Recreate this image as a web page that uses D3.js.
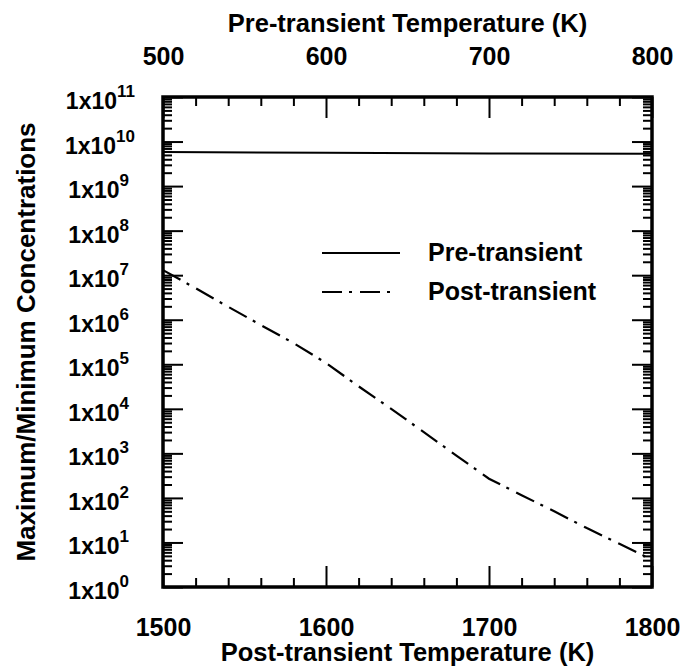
<!DOCTYPE html>
<html>
<head>
<meta charset="utf-8">
<script src="https://cdn.jsdelivr.net/npm/d3@7"></script>
<style>
  body { margin: 0; background: #fff; }
  text { font-family: "Liberation Sans", Arial, sans-serif; font-weight: bold; fill: #000; }
</style>
</head>
<body>
<div id="chart"></div>
<script>

// Data
var postTemps = [1500, 1520, 1540, 1560, 1580, 1600, 1620, 1640, 1660, 1680, 1700, 1720, 1740, 1760, 1780, 1800];
var postRatio = [1.3e7, 5.1e6, 1.95e6, 7.6e5, 3.0e5, 1.07e5, 3.2e4, 1.0e4, 3.0e3, 8.9e2, 2.7e2, 1.15e2, 50, 21, 9.3, 4.1];

var preTemps = [500, 600, 700, 800];
var preRatio = [5.8e9, 5.6e9, 5.4e9, 5.3e9];

var bottomTicks = [1500, 1600, 1700, 1800];
var topTicks = [500, 600, 700, 800];
var yExponents = [0, 1, 2, 3, 4, 5, 6, 7, 8, 9, 10, 11];

var legendLabels = ["Pre-transient", "Post-transient"];

///////////////////////////////////////////////////////////////////////////
///////////////////////////// Set up the SVG //////////////////////////////
///////////////////////////////////////////////////////////////////////////

var width = 684,
    height = 670,
    plotLeft = 163, plotRight = 652, plotTop = 97, plotBottom = 587;

var svg = d3.select("#chart")
    .append("svg")
        .attr("width", width)
        .attr("height", height);

var x = d3.scaleLinear().domain([1500, 1800]).range([plotLeft, plotRight]);
var xTop = d3.scaleLinear().domain([500, 800]).range([plotLeft, plotRight]);
var y = d3.scaleLog().domain([1, 1e11]).range([plotBottom, plotTop]);

// minor tick values
var xMinor = d3.range(1500, 1801, 20).filter(d => d % 100 !== 0);
var xTopMinor = d3.range(500, 801, 20).filter(d => d % 100 !== 0);
var yMinor = [];
yExponents.slice(0, -1).forEach(e => {
    d3.range(2, 10).forEach(m => yMinor.push(m * Math.pow(10, e)));
});
var yMajor = yExponents.map(e => Math.pow(10, e));

///////////////////////////////////////////////////////////////////////////
////////////////////////////////// Axes ///////////////////////////////////
///////////////////////////////////////////////////////////////////////////

function tickAxis(axis, translate) {
    var g = svg.append("g")
        .attr("transform", translate)
        .call(axis);
    g.select(".domain").remove();
    g.selectAll("line").attr("stroke", "#000").attr("stroke-width", 2);
    g.selectAll("text").attr("font-family", null).attr("font-size", null)
        .style("font-size", "25px");
    return g;
}

// bottom
tickAxis(d3.axisBottom(x).tickValues(xMinor).tickSize(-9).tickFormat(""), "translate(0," + plotBottom + ")");
tickAxis(d3.axisBottom(x).tickValues(bottomTicks).tickSize(-21).tickPadding(31).tickFormat(d3.format("d")), "translate(0," + plotBottom + ")");

// top
tickAxis(d3.axisTop(xTop).tickValues(xTopMinor).tickSize(-9).tickFormat(""), "translate(0," + plotTop + ")");
tickAxis(d3.axisTop(xTop).tickValues(topTicks).tickSize(-21).tickPadding(32).tickFormat(d3.format("d")), "translate(0," + plotTop + ")");

// left & right
tickAxis(d3.axisLeft(y).tickValues(yMinor).tickSize(-9).tickFormat(""), "translate(" + plotLeft + ",0)");
tickAxis(d3.axisLeft(y).tickValues(yMajor).tickSize(-20).tickFormat(""), "translate(" + plotLeft + ",0)");
tickAxis(d3.axisRight(y).tickValues(yMinor).tickSize(-9).tickFormat(""), "translate(" + plotRight + ",0)");
tickAxis(d3.axisRight(y).tickValues(yMajor).tickSize(-20).tickFormat(""), "translate(" + plotRight + ",0)");

// y tick labels with superscripts
var yLab = svg.append("g")
    .selectAll("text")
    .data(yExponents)
    .enter()
    .append("text")
        .attr("x", d => d >= 10 ? 135 : 129)
        .attr("y", d => y(Math.pow(10, d)) + 12)
        .attr("text-anchor", "end")
        .style("font-size", "23px");

yLab.append("tspan").text("1x10");
yLab.append("tspan")
    .text(d => d)
    .attr("dy", -12)
    .style("font-size", "17px");

// frame
svg.append("rect")
    .attr("x", plotLeft)
    .attr("y", plotTop)
    .attr("width", plotRight - plotLeft)
    .attr("height", plotBottom - plotTop)
    .attr("fill", "none")
    .attr("stroke", "#000")
    .attr("stroke-width", 3.5);

///////////////////////////////////////////////////////////////////////////
////////////////////////////////// Lines //////////////////////////////////
///////////////////////////////////////////////////////////////////////////

var dashDot = "20,7,3,8";

var preLine = d3.line()
    .x((d, i) => xTop(preTemps[i]))
    .y(d => y(d));

var postLine = d3.line()
    .x((d, i) => x(postTemps[i]))
    .y(d => y(d));

svg.append("path")
    .datum(preRatio)
    .attr("d", preLine)
    .attr("fill", "none")
    .attr("stroke", "#000")
    .attr("stroke-width", 2);

svg.append("path")
    .datum(postRatio)
    .attr("d", postLine)
    .attr("fill", "none")
    .attr("stroke", "#000")
    .attr("stroke-width", 2.2)
    .attr("stroke-dasharray", dashDot);

///////////////////////////////////////////////////////////////////////////
///////////////////////////////// Legend //////////////////////////////////
///////////////////////////////////////////////////////////////////////////

var legend = svg.append("g");

legendLabels.forEach((lab, i) => {
    var ly = 253 + i * 39;
    legend.append("line")
        .attr("x1", 322).attr("x2", i === 0 ? 400 : 398)
        .attr("y1", ly).attr("y2", ly)
        .attr("stroke", "#000")
        .attr("stroke-width", 2)
        .attr("stroke-dasharray", i === 0 ? null : dashDot);
    legend.append("text")
        .attr("x", 428)
        .attr("y", ly + 8)
        .text(lab)
        .style("font-size", "25px");
});

///////////////////////////////////////////////////////////////////////////
///////////////////////////////// Titles //////////////////////////////////
///////////////////////////////////////////////////////////////////////////

svg.append("text")
    .attr("x", (plotLeft + plotRight) / 2)
    .attr("y", 32)
    .attr("text-anchor", "middle")
    .style("font-size", "25.5px")
    .text("Pre-transient Temperature (K)");

svg.append("text")
    .attr("x", (plotLeft + plotRight) / 2)
    .attr("y", 661)
    .attr("text-anchor", "middle")
    .style("font-size", "25.5px")
    .text("Post-transient Temperature (K)");

svg.append("text")
    .attr("transform", "translate(35," + ((plotTop + plotBottom) / 2) + ")rotate(-90)")
    .attr("text-anchor", "middle")
    .style("font-size", "26px")
    .text("Maximum/Minimum Concentrations");

</script>
</body>
</html>
